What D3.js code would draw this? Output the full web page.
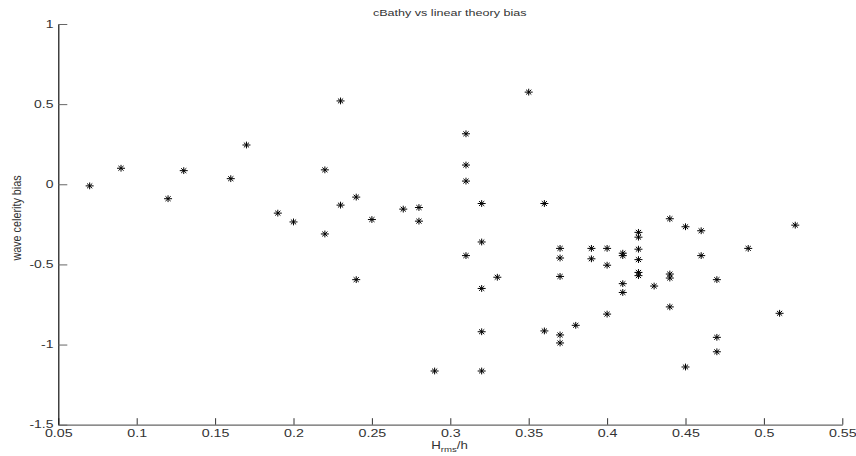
<!DOCTYPE html>
<html>
<head>
<meta charset="utf-8">
<script src="https://cdn.jsdelivr.net/npm/d3@7"></script>
<style>
  html, body { margin: 0; padding: 0; background: #fff; }
  svg { display: block; }
  text { font-family: "Liberation Sans", Arial, sans-serif; }
</style>
</head>
<body>
<svg id="chart" width="856" height="456"></svg>
<script>
// ---- data ----
const xValues = [0.07, 0.09, 0.12, 0.13, 0.16, 0.17, 0.19, 0.20, 0.22, 0.22,
  0.23, 0.23, 0.24, 0.24, 0.25, 0.27, 0.28, 0.28, 0.29, 0.31,
  0.31, 0.31, 0.31, 0.32, 0.32, 0.32, 0.32, 0.32, 0.33, 0.35,
  0.36, 0.36, 0.37, 0.37, 0.37, 0.37, 0.37, 0.38, 0.39, 0.39,
  0.40, 0.40, 0.40, 0.41, 0.41, 0.41, 0.41, 0.42, 0.42, 0.42,
  0.42, 0.42, 0.42, 0.43, 0.44, 0.44, 0.44, 0.44, 0.45, 0.45,
  0.46, 0.46, 0.47, 0.47, 0.47, 0.49, 0.51, 0.52];
const yValues = [-0.01, 0.10, -0.09, 0.085, 0.035, 0.245, -0.18, -0.235, 0.09, -0.31,
  0.52, -0.13, -0.08, -0.595, -0.22, -0.155, -0.145, -0.23, -1.165, 0.315,
  0.12, 0.02, -0.445, -0.12, -0.36, -0.65, -0.92, -1.165, -0.58, 0.575,
  -0.12, -0.915, -0.40, -0.46, -0.575, -0.94, -0.99, -0.88, -0.40, -0.465,
  -0.40, -0.505, -0.81, -0.43, -0.445, -0.62, -0.675, -0.30, -0.33, -0.405,
  -0.47, -0.55, -0.57, -0.635, -0.215, -0.56, -0.585, -0.765, -0.265, -1.14,
  -0.29, -0.445, -0.595, -0.955, -1.045, -0.40, -0.805, -0.255];
const xTicks = [0.05, 0.1, 0.15, 0.2, 0.25, 0.3, 0.35, 0.4, 0.45, 0.5, 0.55];
const xTickLabels = ["0.05", "0.1", "0.15", "0.2", "0.25", "0.3", "0.35", "0.4", "0.45", "0.5", "0.55"];
const yTicks = [-1.5, -1, -0.5, 0, 0.5, 1];
const yTickLabels = ["-1.5", "-1", "-0.5", "0", "0.5", "1"];
const titleText = "cBathy vs linear theory bias";
const yLabelText = "wave celerity bias";

// ---- layout ----
const svg = d3.select("#chart");
const mLeft = 58.3, mRight = 842.3, mTop = 24, mBottom = 424.7;
const stretch = 1.4;

const x = d3.scaleLinear().domain([0.05, 0.55]).range([mLeft, mRight]);
const y = d3.scaleLinear().domain([-1.5, 1]).range([mBottom, mTop]);

// x axis
const xAxis = d3.axisBottom(x)
  .tickValues(xTicks)
  .tickFormat((d, i) => xTickLabels[i])
  .tickSizeInner(-6.5)
  .tickSizeOuter(0)
  .tickPadding(5.2);
const gx = svg.append("g").attr("transform", `translate(0,${mBottom})`).call(xAxis);
gx.select(".domain").attr("stroke", "#666").attr("stroke-width", 1.3);
gx.selectAll(".tick line").attr("stroke", "#333").attr("stroke-width", 1);
gx.selectAll(".tick text")
  .attr("font-size", 10.2)
  .attr("fill", "#333")
  .attr("font-family", "Liberation Sans, Arial, sans-serif")
  .attr("transform", `scale(${stretch},1)`);

// y axis
const yAxis = d3.axisLeft(y)
  .tickValues(yTicks)
  .tickFormat((d, i) => yTickLabels[i])
  .tickSizeInner(-9)
  .tickSizeOuter(0)
  .tickPadding(3.5);
const gy = svg.append("g").attr("transform", `translate(${mLeft},0)`).call(yAxis);
gy.select(".domain").attr("stroke", "#111").attr("stroke-width", 1.2);
gy.selectAll(".tick line").attr("stroke", "#666").attr("stroke-width", 1);
gy.selectAll(".tick text")
  .attr("font-size", 10.2)
  .attr("fill", "#333")
  .attr("font-family", "Liberation Sans, Arial, sans-serif")
  .attr("transform", `scale(1.37,1)`);

// points (asterisk markers)
const asterisk = "M-4,0H4M0,-3.4V3.4M-2.6,-2.4L2.6,2.4M-2.6,2.4L2.6,-2.4";
const pts = xValues.map((v, i) => ({ x: v, y: yValues[i] }));
svg.append("g")
  .selectAll("path")
  .data(pts)
  .join("path")
  .attr("transform", d => `translate(${x(d.x)},${y(d.y)})`)
  .attr("d", asterisk)
  .attr("fill", "none")
  .attr("stroke", "#000")
  .attr("stroke-width", 1);

// title
svg.append("text")
  .attr("transform", `translate(${(mLeft + mRight) / 2 - 0.6},16) scale(1.48,1)`)
  .attr("text-anchor", "middle")
  .attr("font-size", 8.5)
  .attr("fill", "#333")
  .text(titleText);

// y label
svg.append("text")
  .attr("transform", `translate(20.5,218) scale(1.25,1) rotate(-90)`)
  .attr("text-anchor", "middle")
  .attr("font-size", 10.8)
  .attr("fill", "#333")
  .text(yLabelText);

// x label H_rms/h
const xl = svg.append("text")
  .attr("transform", `translate(449.5,449) scale(1.3,1)`)
  .attr("text-anchor", "middle")
  .attr("font-size", 10.2)
  .attr("fill", "#333");
xl.append("tspan").text("H");
xl.append("tspan").attr("font-size", 7.4).attr("dy", 3).text("rms");
xl.append("tspan").attr("dy", -3).text("/h");
</script>
</body>
</html>
